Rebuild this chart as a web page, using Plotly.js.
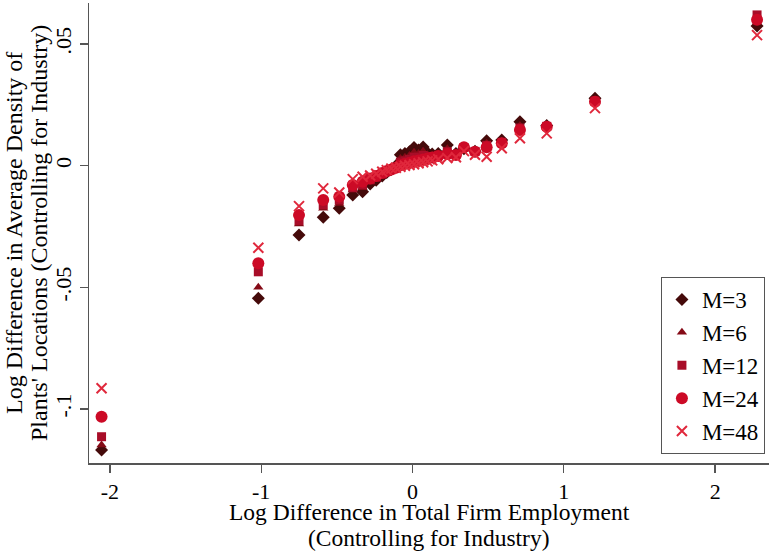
<!DOCTYPE html>
<html>
<head>
<meta charset="utf-8">
<script src="https://cdn.plot.ly/plotly-3.0.1.min.js"></script>
<style>html,body{margin:0;padding:0;background:#fff;}#chart{width:769px;height:552px;}</style>
</head>
<body>
<div id="chart"></div>
<script>
// Shared x values (log difference in total firm employment)
var xVals = [-2.055, -1.019, -0.75, -0.59, -0.484, -0.395, -0.33, -0.28, -0.24, -0.2, -0.17, -0.14, -0.11, -0.08, -0.05, -0.02, 0.01, 0.04, 0.07, 0.1, 0.13, 0.17, 0.23, 0.287, 0.34, 0.413, 0.49, 0.59, 0.71, 0.887, 1.206, 2.277];

var yM3 = [-0.1169, -0.0545, -0.0285, -0.0212, -0.0175, -0.0120, -0.0107, -0.0075, -0.0060, -0.0042, -0.0028, -0.0015, 0.0000, 0.0045, 0.0050, 0.0058, 0.0075, 0.0065, 0.0077, 0.0052, 0.0048, 0.0050, 0.0085, 0.0050, 0.0070, 0.0060, 0.0103, 0.0106, 0.0181, 0.0165, 0.0277, 0.0574];
var yM6 = [-0.1148, -0.0500, -0.0240, -0.0175, -0.0155, -0.0100, -0.0090, -0.0065, -0.0052, -0.0037, -0.0026, -0.0016, -0.0004, 0.0030, 0.0035, 0.0042, 0.0055, 0.0050, 0.0060, 0.0045, 0.0042, 0.0046, 0.0070, 0.0048, 0.0074, 0.0060, 0.0092, 0.0100, 0.0165, 0.0163, 0.0270, 0.0590];
var yM12 = [-0.1114, -0.0436, -0.0225, -0.0160, -0.0140, -0.0090, -0.0078, -0.0058, -0.0047, -0.0034, -0.0024, -0.0016, -0.0006, 0.0015, 0.0020, 0.0026, 0.0035, 0.0035, 0.0042, 0.0038, 0.0038, 0.0043, 0.0058, 0.0046, 0.0075, 0.0059, 0.0084, 0.0096, 0.0155, 0.0162, 0.0266, 0.0620];
var yM24 = [-0.1032, -0.0401, -0.0203, -0.0141, -0.0127, -0.0079, -0.0066, -0.0052, -0.0042, -0.0030, -0.0022, -0.0015, -0.0008, 0.0002, 0.0008, 0.0012, 0.0018, 0.0022, 0.0026, 0.0030, 0.0034, 0.0040, 0.0048, 0.0044, 0.0076, 0.0058, 0.0076, 0.0092, 0.0147, 0.0160, 0.0263, 0.0600];
var yM48 = [-0.0915, -0.0337, -0.0166, -0.0093, -0.0110, -0.0055, -0.0045, -0.0040, -0.0033, -0.0025, -0.0018, -0.0012, -0.0008, -0.0004, 0.0000, 0.0003, 0.0006, 0.0010, 0.0014, 0.0018, 0.0022, 0.0027, 0.0032, 0.0035, 0.0060, 0.0045, 0.0037, 0.0072, 0.0113, 0.0133, 0.0237, 0.0537];

var seriesNames = ["M=3", "M=6", "M=12", "M=24", "M=48"];
var xTickVals = [-2, -1, 0, 1, 2];
var xTickText = ["-2", "-1", "0", "1", "2"];
var yTickVals = [-0.1, -0.05, 0, 0.05];
var yTickText = ["-.1", "-.05", "0", ".05"];
var xTitleLines = ["Log Difference in Total Firm Employment", "(Controlling for Industry)"];
var yTitleLines = ["Log Difference in Average Density of", "Plants' Locations (Controlling for Industry)"];

var FONT = "Liberation Serif";
var axisColor = "#555555";

var traces = [
  {x: xVals, y: yM3, name: seriesNames[0], type: "scatter", mode: "markers",
   marker: {symbol: "diamond", size: 10, color: "#450a0a"}},
  {x: xVals, y: yM6, name: seriesNames[1], type: "scatter", mode: "markers",
   marker: {symbol: "triangle-up", size: 9, color: "#850a16"}},
  {x: xVals, y: yM12, name: seriesNames[2], type: "scatter", mode: "markers",
   marker: {symbol: "square", size: 9, color: "#a80d28"}},
  {x: xVals, y: yM24, name: seriesNames[3], type: "scatter", mode: "markers",
   marker: {symbol: "circle", size: 12, color: "#cc0a26"}},
  {x: xVals, y: yM48, name: seriesNames[4], type: "scatter", mode: "markers",
   marker: {symbol: "x-thin-open", size: 10, color: "#e0283c", line: {color: "#e0283c", width: 2}}}
];

var titleFont = {family: FONT, size: 24, color: "#000000"};
var xTitleFont = {family: FONT, size: 23.5, color: "#000000"};
var annotations = [
  {text: xTitleLines[0], xref: "paper", yref: "paper", x: 0.5, y: -0.1065, xanchor: "center", yanchor: "middle", showarrow: false, font: xTitleFont},
  {text: xTitleLines[1], xref: "paper", yref: "paper", x: 0.5, y: -0.1640, xanchor: "center", yanchor: "middle", showarrow: false, font: xTitleFont},
  {text: yTitleLines[0], xref: "paper", yref: "paper", x: -0.1103, y: 0.5, xanchor: "center", yanchor: "middle", textangle: -90, showarrow: false, font: titleFont},
  {text: yTitleLines[1], xref: "paper", yref: "paper", x: -0.0735, y: 0.5, xanchor: "center", yanchor: "middle", textangle: -90, showarrow: false, font: titleFont}
];

var layout = {
  width: 769, height: 552,
  margin: {l: 89, r: 0, t: 3, b: 89},
  paper_bgcolor: "#ffffff", plot_bgcolor: "#ffffff",
  font: {family: FONT, size: 22, color: "#000000"},
  showlegend: true,
  legend: {
    x: 0.994, y: 0.0196, xanchor: "right", yanchor: "bottom",
    bordercolor: axisColor, borderwidth: 1, bgcolor: "#ffffff",
    font: {family: FONT, size: 23, color: "#000000"}
  },
  annotations: annotations,
  xaxis: {
    range: [-2.138, 2.356],
    tickvals: xTickVals, ticktext: xTickText,
    ticks: "outside", ticklen: 8, tickwidth: 1.3, tickcolor: axisColor,
    showline: true, linecolor: axisColor, linewidth: 1.5,
    showgrid: false, zeroline: false,
    tickfont: {family: FONT, size: 22, color: "#000000"}
  },
  yaxis: {
    range: [-0.1222, 0.0669],
    tickvals: yTickVals, ticktext: yTickText, tickangle: -90,
    ticks: "outside", ticklen: 8, tickwidth: 1.3, tickcolor: axisColor,
    showline: true, linecolor: axisColor, linewidth: 1.5,
    showgrid: false, zeroline: false,
    tickfont: {family: FONT, size: 22, color: "#000000"}
  }
};

Plotly.newPlot("chart", traces, layout, {displayModeBar: false, staticPlot: true});
</script>
</body>
</html>
